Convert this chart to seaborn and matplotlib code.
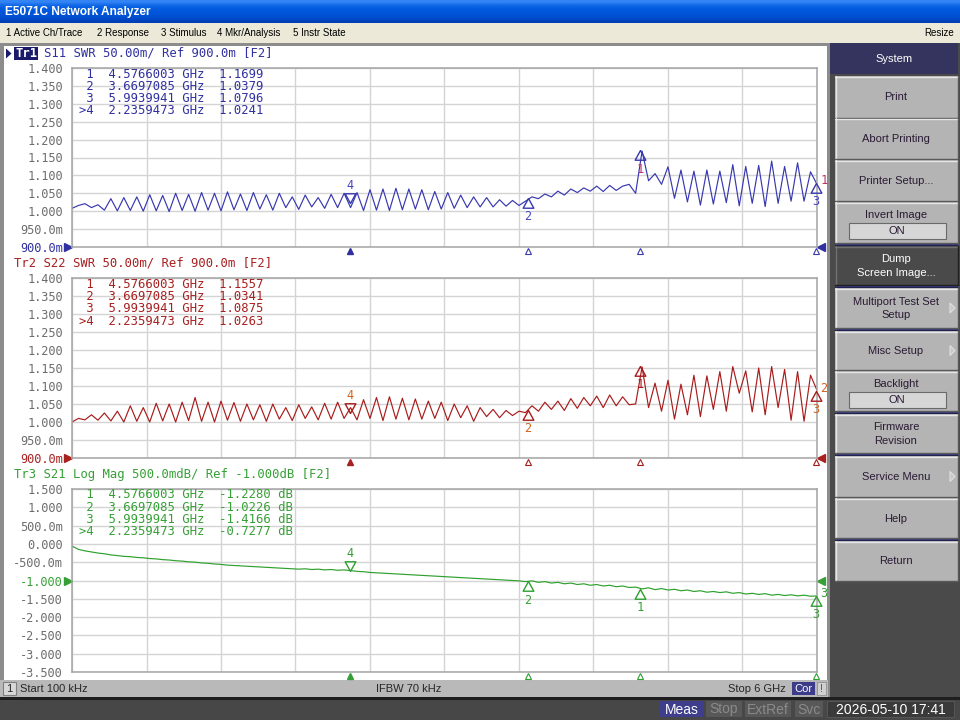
import numpy as np
import pandas as pd
import matplotlib
matplotlib.use("Agg")
import matplotlib.pyplot as plt
import matplotlib.transforms as mtrans
from matplotlib.patches import Rectangle, Polygon
import seaborn as sns

# ------------------------------------------------------------------ data
START_GHZ = 0.0001
STOP_GHZ = 6.0
N_POINTS = 116

s11_swr = [
    1.008, 1.016, 1.021, 1.010, 1.018, 1.003, 1.035, 1.001, 1.038, 1.002,
    1.040, 1.000, 1.046, 1.001, 1.044, 0.999, 1.050, 1.002, 1.047, 1.000,
    1.052, 1.003, 1.050, 1.001, 1.054, 1.004, 1.048, 1.002, 1.052, 1.006,
    1.046, 1.003, 1.050, 1.010, 1.040, 1.005, 1.045, 1.012, 1.038, 1.008,
    1.047, 1.010, 1.050, 1.010, 1.052, 1.002, 1.060, 1.003, 1.062, 1.002,
    1.064, 1.004, 1.062, 1.006, 1.060, 1.004, 1.055, 1.006, 1.052, 1.008,
    1.045, 1.010, 1.040, 1.012, 1.038, 1.012, 1.032, 1.014, 1.030, 1.016,
    1.028, 1.040, 1.035, 1.048, 1.040, 1.056, 1.045, 1.062, 1.052, 1.065,
    1.056, 1.070, 1.055, 1.072, 1.058, 1.070, 1.075, 1.050, 1.168, 1.085,
    1.105, 1.075, 1.124, 1.036, 1.115, 1.026, 1.112, 1.017, 1.115, 1.020,
    1.112, 1.024, 1.130, 1.015, 1.125, 1.022, 1.128, 1.013, 1.140, 1.022,
    1.125, 1.028, 1.135, 1.028, 1.110, 1.075,
]
s22_swr = [
    1.000, 1.010, 1.006, 1.020, 1.005, 1.025, 1.003, 1.030, 1.000, 1.045,
    1.002, 1.040, 1.000, 1.052, 1.003, 1.050, 1.000, 1.055, 1.004, 1.068,
    1.002, 1.055, 1.000, 1.058, 1.005, 1.054, 1.002, 1.050, 1.006, 1.048,
    1.002, 1.050, 1.008, 1.040, 1.004, 1.048, 1.010, 1.042, 1.006, 1.052,
    1.008, 1.055, 1.010, 1.040, 1.006, 1.062, 1.010, 1.068, 1.004, 1.070,
    1.008, 1.066, 1.006, 1.064, 1.008, 1.058, 1.010, 1.055, 1.004, 1.050,
    1.012, 1.045, 1.002, 1.040, 1.015, 1.035, 1.012, 1.032, 1.018, 1.030,
    1.026, 1.045, 1.030, 1.055, 1.035, 1.058, 1.032, 1.065, 1.038, 1.068,
    1.045, 1.072, 1.040, 1.075, 1.045, 1.070, 1.048, 1.050, 1.153, 1.040,
    1.108, 1.030, 1.116, 1.008, 1.105, 1.020, 1.130, 1.015, 1.128, 1.035,
    1.140, 1.030, 1.154, 1.080, 1.142, 1.028, 1.150, 1.020, 1.154, 1.040,
    1.146, 1.005, 1.140, 1.002, 1.130, 1.088,
]
s21_db = [
    -0.06, -0.15, -0.19, -0.22, -0.25, -0.27, -0.30, -0.32, -0.34, -0.35,
    -0.37, -0.38, -0.40, -0.41, -0.43, -0.44, -0.46, -0.47, -0.49, -0.50,
    -0.52, -0.53, -0.55, -0.56, -0.58, -0.59, -0.60, -0.61, -0.62, -0.63,
    -0.64, -0.65, -0.66, -0.67, -0.68, -0.69, -0.68, -0.70, -0.69, -0.71,
    -0.70, -0.72, -0.71, -0.73, -0.75, -0.76, -0.78, -0.79, -0.80, -0.81,
    -0.82, -0.83, -0.84, -0.85, -0.86, -0.87, -0.88, -0.89, -0.90, -0.91,
    -0.92, -0.93, -0.94, -0.95, -0.96, -0.97, -0.98, -0.99, -1.00, -1.01,
    -1.03, -1.01, -1.05, -1.03, -1.07, -1.05, -1.09, -1.07, -1.11, -1.09,
    -1.13, -1.11, -1.15, -1.13, -1.17, -1.15, -1.19, -1.18, -1.23, -1.20,
    -1.25, -1.22, -1.26, -1.24, -1.28, -1.26, -1.30, -1.28, -1.32, -1.30,
    -1.33, -1.31, -1.35, -1.33, -1.37, -1.35, -1.38, -1.36, -1.40, -1.38,
    -1.41, -1.39, -1.42, -1.40, -1.43, -1.42,
]

marker_labels = [" 1", " 2", " 3", ">4"]
marker_freq_ghz = [4.5766003, 3.6697085, 5.9939941, 2.2359473]
s11_marker_val = [1.1699, 1.0379, 1.0796, 1.0241]
s22_marker_val = [1.1557, 1.0341, 1.0875, 1.0263]
s21_marker_val = [-1.2280, -1.0226, -1.4166, -0.7277]

swr_tick_labels = ["900.0m", "950.0m", "1.000", "1.050", "1.100", "1.150",
                   "1.200", "1.250", "1.300", "1.350", "1.400"]
db_tick_labels = ["-3.500", "-3.000", "-2.500", "-2.000", "-1.500", "-1.000",
                  "-500.0m", "0.000", "500.0m", "1.000", "1.500"]

trace_headers = ["S11 SWR 50.00m/ Ref 900.0m [F2]",
                 "Tr2 S22 SWR 50.00m/ Ref 900.0m [F2]",
                 "Tr3 S21 Log Mag 500.0mdB/ Ref -1.000dB [F2]"]
menu_items = ["1 Active Ch/Trace", "2 Response", "3 Stimulus",
              "4 Mkr/Analysis", "5 Instr State"]
softkey_labels = ["Print", "Abort Printing", "Printer Setup...", "Invert Image",
                  "Dump\nScreen Image...", "Multiport Test Set\nSetup", "Misc Setup",
                  "Backlight", "Firmware\nRevision", "Service Menu", "Help", "Return"]
status_texts = ["Start 100 kHz", "IFBW 70 kHz", "Stop 6 GHz"]
bottom_flags = ["Meas", "Stop", "ExtRef", "Svc"]
date_text = "2026-05-10 17:41"

freq = np.linspace(START_GHZ, STOP_GHZ, N_POINTS)
df = pd.DataFrame({"freq": freq, "S11": s11_swr, "S22": s22_swr, "S21": s21_db})

# ------------------------------------------------------------------ style
sns.set_style("white")
plt.rcParams["font.family"] = ["DejaVu Sans"]
MONO = "DejaVu Sans Mono"
UI = "Liberation Sans"
MONO_SIZE = 8.6
TABLE_SIZE = 8.85

W, H = 960, 720
fig = plt.figure(figsize=(9.6, 7.2), dpi=100)


def overlay(z):
    a = fig.add_axes([0, 0, 1, 1], zorder=z)
    a.set_xlim(0, W)
    a.set_ylim(H, 0)
    a.axis("off")
    a.patch.set_alpha(0)
    return a


bg = overlay(0)
fg = overlay(5)


def box(x0, y0, x1, y1, fc, ec="none", lw=0, ax=None, z=1):
    (ax or bg).add_patch(Rectangle((x0, y0), x1 - x0, y1 - y0, facecolor=fc,
                                   edgecolor=ec, linewidth=lw, zorder=z))


def px_axes(x0, y0, x1, y1):
    return fig.add_axes([x0 / W, 1 - y1 / H, (x1 - x0) / W, (y1 - y0) / H], zorder=2)


# ---------------------------------------------------------- window chrome
box(0, 0, W, H, "#8c8c8c", z=0)
grad = np.array([[0.20, 0.52, 0.96], [0.05, 0.40, 0.90], [0.00, 0.35, 0.87],
                 [0.00, 0.33, 0.85], [0.00, 0.31, 0.82], [0.00, 0.25, 0.72]])
bg.imshow(grad[:, None, :], extent=(0, W, 23, 0), aspect="auto",
          interpolation="bilinear", zorder=1)
bg.set_xlim(0, W); bg.set_ylim(H, 0)
bg.text(5, 12, "E5071C Network Analyzer", color="white", fontsize=8.6,
        fontweight="bold", family=UI, va="center", ha="left", zorder=3)
box(0, 23, W, 43, "#ece9d8", z=1)
for txt, x in zip(menu_items, [6, 97, 161, 217, 293]):
    bg.text(x, 33.5, txt, fontsize=7.0, family=UI, va="center", ha="left",
            color="#000000", zorder=3)
bg.text(954, 33.5, "Resize", fontsize=7.0, family=UI, va="center", ha="right",
        color="#000000", zorder=3)

# white screen
box(4, 46, 827, 680, "white", z=1)

# right soft-key panel
box(830, 43, W, 697, "#4a4a4a", z=1)
box(830, 43, 958, 74, "#34345e", z=2)
bg.text(894, 59, "System", color="white", fontsize=8, family=UI,
        ha="center", va="center", zorder=3)

key_geom = [(76, 118, "n"), (118, 159, "n"), (160, 201, "n"), (202, 243, "on"),
            (246, 285, "dark"), (288, 328, "arrow"), (331, 370, "arrow"),
            (371, 411, "on"), (414, 453, "n"), (456, 497, "arrow"),
            (498, 538, "n"), (541, 581, "n")]
separators = [(243, 246), (285, 288), (328, 331), (411, 414), (453, 456), (538, 541)]
for y0, y1 in separators:
    box(835, y0, 958, y1, "#222250", z=2)
    box(835, y0 + 1, 958, y0 + 2, "#3a3a80", z=2)

for label, (y0, y1, kind) in zip(softkey_labels, key_geom):
    dark = kind == "dark"
    box(835, y0, 958, y1, "#4a4a4a" if dark else "#b4b4b4", z=2)
    hi = "#707070" if dark else "#e6e6e6"
    lo = "#202020" if dark else "#5a5a5a"
    bg.plot([835, 958], [y0 + 0.5, y0 + 0.5], color=hi, lw=1, zorder=3)
    bg.plot([835.5, 835.5], [y0, y1], color=hi, lw=1, zorder=3)
    bg.plot([835, 958], [y1 - 0.5, y1 - 0.5], color=lo, lw=1, zorder=3)
    bg.plot([957.5, 957.5], [y0, y1], color=lo, lw=1, zorder=3)
    tc = "white" if dark else "#2a1a34"
    if kind == "on":
        bg.text(896, y0 + 13, label, fontsize=8, family=UI, ha="center",
                va="center", color=tc, zorder=4)
        box(849, y0 + 21, 946, y0 + 37, "#d6d6d6", ec="#6a6a6a", lw=0.8, z=3)
        bg.text(897, y0 + 29, "ON", fontsize=8, family=UI, ha="center",
                va="center", color=tc, zorder=4)
    else:
        bg.text(896, (y0 + y1) / 2 + 0.5, label, fontsize=8, family=UI,
                ha="center", va="center", color=tc, zorder=4,
                linespacing=1.45)
    if kind == "arrow":
        ym = (y0 + y1) / 2
        bg.add_patch(Polygon([[950, ym - 5], [950, ym + 5], [955, ym]],
                             closed=True, facecolor="#c8c8c8",
                             edgecolor="#e0e0e0", lw=0.8, zorder=4))

# channel status bar
box(0, 680, 828, 697, "#b9b9b9", z=2)
box(3, 682, 16, 695, "#d8d8d8", ec="#808080", lw=0.8, z=3)
bg.text(9.5, 688.5, "1", fontsize=8, family=UI, ha="center", va="center", zorder=4)
bg.text(20, 688.5, status_texts[0], fontsize=8, family=UI, ha="left", va="center", zorder=4)
bg.text(376, 688.5, status_texts[1], fontsize=8, family=UI, ha="left", va="center", zorder=4)
bg.text(786, 688.5, status_texts[2], fontsize=8, family=UI, ha="right", va="center", zorder=4)
box(792, 682, 815, 695, "#3c3c8a", z=3)
bg.text(803.5, 688.5, "Cor", fontsize=8, family=UI, ha="center", va="center",
        color="white", zorder=4)
box(817, 682, 826, 695, "#d0d0d0", ec="#909090", lw=0.6, z=3)
bg.text(821.5, 688.5, "!", fontsize=8, family=UI, ha="center", va="center",
        color="#a0208a", zorder=4)

# bottom bar
box(0, 697, W, H, "#474747", z=2)
box(0, 697, W, 699.5, "#1e1e1e", z=3)
flag_geom = [(660, 704, "#3e3e8c", "white"), (706, 742, "#585858", "#8a8a8a"),
             (745, 791, "#585858", "#8a8a8a"), (795, 823, "#585858", "#8a8a8a")]
for txt, (x0, x1, fc, tc) in zip(bottom_flags, flag_geom):
    box(x0, 701, x1, 717, fc, z=3)
    bg.text((x0 + x1) / 2, 709.5, txt, fontsize=10, family=UI, ha="center",
            va="center", color=tc, zorder=4)
box(827, 701, 954, 717, "#3a3a3a", ec="#5a5a5a", lw=0.6, z=3)
bg.text(890.5, 709.5, date_text, fontsize=10, family=UI, ha="center",
        va="center", color="white", zorder=4)

# ------------------------------------------------------------------ traces
panels = [
    dict(col="S11", rect=(72, 68, 817, 247), ylim=(0.9, 1.4), ticks=swr_tick_labels,
         ref_idx=0, ref_val=0.9, line="#3838b0", text="#3030a0", lab="#4646c4",
         lab1="#c0306e", mk=s11_marker_val, head_y=53.5, table_y=74.0, num="1",
         unit=""),
    dict(col="S22", rect=(72, 278, 817, 458), ylim=(0.9, 1.4), ticks=swr_tick_labels,
         ref_idx=0, ref_val=0.9, line="#a81c1c", text="#a82020", lab="#d0641c",
         lab1="#a81818", mk=s22_marker_val, head_y=263.5, table_y=284.3, num="2",
         unit=""),
    dict(col="S21", rect=(72, 489, 817, 672), ylim=(-3.5, 1.5), ticks=db_tick_labels,
         ref_idx=5, ref_val=-1.0, line="#2ea02e", text="#36a036", lab="#36a036",
         lab1="#36a036", mk=s21_marker_val, head_y=474.5, table_y=495.0, num="3",
         unit=" dB"),
]

up_tri = [(0, 0), (-0.55, -1), (0.55, -1), (0, 0)]
down_tri = [(0, 0), (-0.55, 1), (0.55, 1), (0, 0)]

for k, p in enumerate(panels):
    x0, y0, x1, y1 = p["rect"]
    ax = px_axes(x0, y0, x1, y1)
    ax.set_facecolor("white")
    sns.lineplot(data=df, x="freq", y=p["col"], ax=ax, color=p["line"],
                 linewidth=0.85, estimator=None, legend=False)
    lo, hi = p["ylim"]
    ax.set_xlim(START_GHZ, STOP_GHZ)
    ax.set_ylim(lo, hi)
    ax.set_xlabel("")
    ax.set_ylabel("")
    ax.set_xticks(np.linspace(START_GHZ, STOP_GHZ, 11))
    ax.set_xticklabels([])
    ax.set_yticks(np.linspace(lo, hi, 11))
    ax.set_yticklabels(p["ticks"], family=MONO, fontsize=MONO_SIZE, color="#6c6c6c")
    ax.get_yticklabels()[p["ref_idx"]].set_color(p["text"])
    ax.tick_params(axis="both", length=0)
    ax.tick_params(axis="y", pad=6.4)
    ax.grid(True, color="#d4d4d4", linewidth=1.0)
    for s in ax.spines.values():
        s.set_color("#a4a4a4")
        s.set_linewidth(1.1)

    # markers on the trace
    mv = p["mk"]
    for j in range(4):
        f, v = marker_freq_ghz[j], mv[j]
        n = marker_labels[j].strip(">").strip()
        if j == 3:
            ax.plot([f], [v], marker=down_tri, markersize=14, mfc="none",
                    mec=p["line"], mew=1.0, ls="none", clip_on=False, zorder=4)
            ax.annotate(n, (f, v), xytext=(0, 17), textcoords="offset pixels",
                        ha="center", va="center", family=MONO, fontsize=MONO_SIZE,
                        color=p["lab"])
        else:
            ax.plot([f], [v], marker=up_tri, markersize=14, mfc="none",
                    mec=p["line"], mew=1.0, ls="none", clip_on=False, zorder=4)
            ax.annotate(n, (f, v), xytext=(0, -19), textcoords="offset pixels",
                        ha="center", va="center", family=MONO, fontsize=MONO_SIZE,
                        color=p["lab1"] if j == 0 else p["lab"])
    ax.annotate(p["num"], (STOP_GHZ, mv[2]), xytext=(7, 2), textcoords="offset pixels",
                ha="center", va="center", family=MONO, fontsize=MONO_SIZE,
                color=p["lab1"] if k == 0 else p["lab"], annotation_clip=False)

    # marker position row below the grid
    bt = mtrans.blended_transform_factory(ax.transData, ax.transAxes)
    yb = -4.0 / (y1 - y0)
    ax.plot(marker_freq_ghz[:3], [yb] * 3, marker="^", markersize=5, mfc="none",
            mec=p["line"], mew=0.8, ls="none", transform=bt, clip_on=False)
    ax.plot([marker_freq_ghz[3]], [yb], marker="^", markersize=5, mfc=p["text"],
            mec=p["text"], ls="none", transform=bt, clip_on=False)

    # reference level pointers
    rt = mtrans.blended_transform_factory(ax.transAxes, ax.transData)
    ax.plot([-4.0 / (x1 - x0)], [p["ref_val"]], marker=">", markersize=5.5,
            color=p["text"], ls="none", transform=rt, clip_on=False)
    ax.plot([1 + 4.0 / (x1 - x0)], [p["ref_val"]], marker="<", markersize=5.5,
            color=p["text"], ls="none", transform=rt, clip_on=False)

    # header line
    if k == 0:
        fg.add_patch(Polygon([[6, 48.5], [6, 58.5], [11.5, 53.5]], closed=True,
                             facecolor="#1a1a6a", edgecolor="none"))
        box(14, 47, 38, 60, "#1a1a6a", ax=fg, z=5)
        fg.text(15.5, p["head_y"], "Tr1", family=MONO, fontsize=TABLE_SIZE,
                fontweight="bold", color="white", va="center", ha="left", zorder=6)
        fg.text(44, p["head_y"], trace_headers[0], family=MONO, fontsize=TABLE_SIZE,
                color=p["text"], va="center", ha="left", zorder=6)
    else:
        fg.text(14.5, p["head_y"], trace_headers[k], family=MONO, fontsize=TABLE_SIZE,
                color=p["text"], va="center", ha="left", zorder=6)

    # marker table
    for j in range(4):
        if p["unit"]:
            row = f"{marker_labels[j]}  {marker_freq_ghz[j]:.7f} GHz  {mv[j]:.4f}{p['unit']}"
        else:
            row = f"{marker_labels[j]}  {marker_freq_ghz[j]:.7f} GHz  {mv[j]:.4f}"
        fg.text(79, p["table_y"] + j * 12.3, row, family=MONO, fontsize=TABLE_SIZE,
                color=p["text"], va="center", ha="left", zorder=6)

fig.savefig("out.png", dpi=100)
